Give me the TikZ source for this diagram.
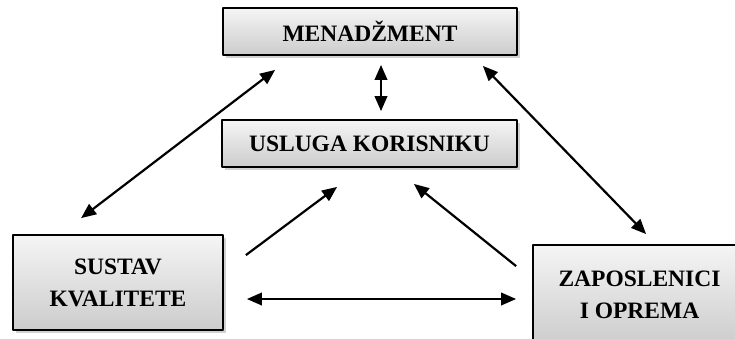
\documentclass[tikz,border=0pt]{standalone}
\usepackage{fontspec}
\setmainfont{Liberation Serif}
\usetikzlibrary{arrows.meta,shadows}
\begin{document}
\begin{tikzpicture}[x=1pt,y=-1pt,line join=round,
		font=\fontsize{23.5}{32}\selectfont\bfseries,
		box/.style={draw,line width=1.8pt,top color=gray!8,bottom color=gray!40,
			drop shadow={shadow xshift=2.5pt,shadow yshift=-3pt,opacity=0.3,fill=black!60},
			align=center,inner sep=0pt},
		link/.style={line width=2.2pt,-{Triangle[length=15pt,width=12.5pt]}},
		dlink/.style={link,{Triangle[length=15pt,width=12.5pt]}-{Triangle[length=15pt,width=12.5pt]}}]
			\clip (0,0) rectangle (735,338);
			\node[box,minimum width=294pt,minimum height=47pt] (men) at (370,31.5) {MENADŽMENT};
			\node[box,minimum width=295pt,minimum height=47pt] (usl) at (369.5,143.5) {USLUGA KORISNIKU};
			\node[box,minimum width=210pt,minimum height=95pt] (sus) at (118,282.5) {SUSTAV\\KVALITETE};
			\node[box,minimum width=213pt,minimum height=100pt] (zap) at (639.5,295) {ZAPOSLENICI\\I OPREMA};
			\draw[dlink] ([shift={(53,14)}]men.south west)--([shift={(69,-16)}]sus.north west);
			\draw[dlink] ([shift={(11,9)}]men.south)--([shift={(11.5,-8)}]usl.north);
			\draw[dlink] ([shift={(-35,10)}]men.south east)--([shift={(114,-10)}]zap.north west);
			\draw[link] ([shift={(22,21)}]sus.north east)--([shift={(116,19)}]usl.south west);
			\draw[link] ([shift={(-16,22)}]zap.north west)--([shift={(-104,16)}]usl.south east);
			\draw[dlink] ([shift={(23,16.5)}]sus.east)--([shift={(-16,4)}]zap.west);
\end{tikzpicture}
\end{document}
